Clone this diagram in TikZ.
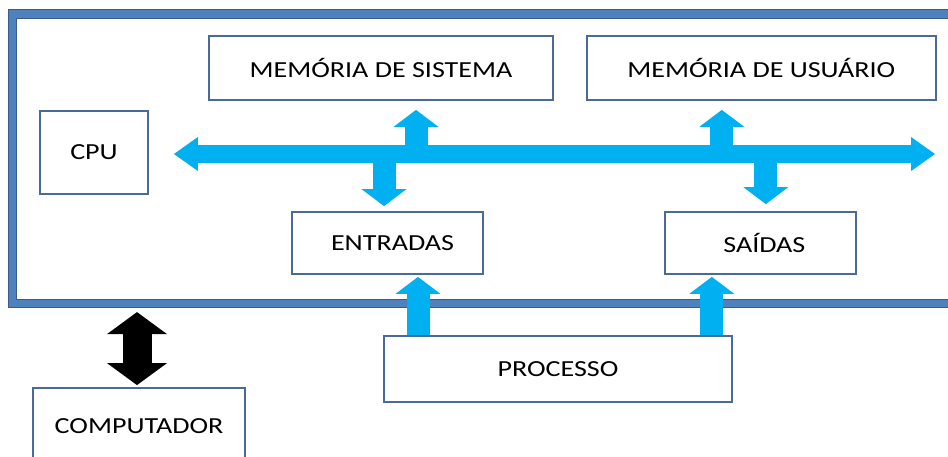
\documentclass[tikz,border=0pt]{standalone}
\usepackage{fontspec}
\setmainfont{Carlito}[FakeStretch=1.22]
\usetikzlibrary{calc}
\usetikzlibrary{positioning}
\usetikzlibrary{arrows.meta}
\definecolor{boxline}{HTML}{4A6A9A}
\definecolor{frameblue}{HTML}{4F81BD}
\definecolor{framedark}{HTML}{385D8A}
\definecolor{busblue}{HTML}{00B0F0}
\tikzset{every node/.style={ % text of every box
           align=center,
           font=\fontsize{23}{26}\selectfont},
         block/.style={ % the plain boxes
           draw=boxline, line width=1.8pt, fill=white, inner sep=0pt},
         frame/.style={ % the big system frame
           draw=framedark, line width=1pt, double=frameblue, double distance=7.5pt},
         bus/.style={
           draw=busblue, line width=18pt,
           {Triangle[width=34pt,length=24pt,line width=0pt]}-{Triangle[width=34pt,length=24pt,line width=0pt]}},
         tap/.style={
           draw=busblue, line width=23pt,
           -{Triangle[width=45pt,length=17pt,line width=0pt]}},
         link/.style={
           draw=black, line width=29pt,
           {Triangle[width=60pt,length=22pt,line width=0pt]}-{Triangle[width=60pt,length=22pt,line width=0pt]}}}
\begin{document}
\begin{tikzpicture}[x=1pt, y=-1pt]
  \useasboundingbox (0,0) rectangle (948,457);
  \clip (0,0) rectangle (948,457);

  \draw [frame] (12.5,14) rectangle (975,303.5);

  \node [block, minimum width=108pt, minimum height=83pt] (cpu) at (94,152.5) {CPU};
  \node [block, minimum width=344pt, minimum height=64pt] (memsis) at (381,68) {MEMÓRIA DE SISTEMA};
  \node [block, minimum width=349pt, minimum height=64pt, right=32pt of memsis] (memusu) {MEMÓRIA DE USUÁRIO};
  \node [block, minimum width=191pt, minimum height=62pt] (entradas) at (387.5,243) {\hspace*{10pt}ENTRADAS};
  \node [block, minimum width=191pt, minimum height=62pt, right=180pt of entradas] (saidas) {\hspace*{8pt}SAÍDAS};
  \node [block, minimum width=348pt, minimum height=66pt] (processo) at (558,369) {PROCESSO};
  \node [block, minimum width=212pt, minimum height=76pt] (computador) at (139,426) {COMPUTADOR};

  % bus ends and arrow tips
  \coordinate (busW) at ($(cpu.east)+(25,1.5)$);
  \coordinate (busE) at (935,154);
  \coordinate (sysin) at ($(memsis.south)+(35,9)$);
  \coordinate (usuin) at ($(memusu.south)+(-39.5,9)$);
  \coordinate (entin) at ($(entradas.north)+(-3.5,-5)$);
  \coordinate (saiin) at ($(saidas.north)+(5.5,-7)$);
  \coordinate (entfeed) at ($(entradas.south)+(30.5,2)$);
  \coordinate (saifeed) at ($(saidas.south)+(-48.5,2)$);

  \draw [tap] (sysin |- busW) -- (sysin);
  \draw [tap] (usuin |- busW) -- (usuin);
  \draw [tap] (entin |- busW) -- (entin);
  \draw [tap] (saiin |- busW) -- (saiin);
  \draw [bus] (busW) -- (busE);

  \draw [tap] (processo.north -| entfeed) -- (entfeed);
  \draw [tap] (processo.north -| saifeed) -- (saifeed);

  \coordinate (sysbase) at ($(computador.north)+(-2,-75)$);
  \draw [link] (sysbase) -- ([yshift=2pt]computador.north -| sysbase);

\end{tikzpicture}
\end{document}
